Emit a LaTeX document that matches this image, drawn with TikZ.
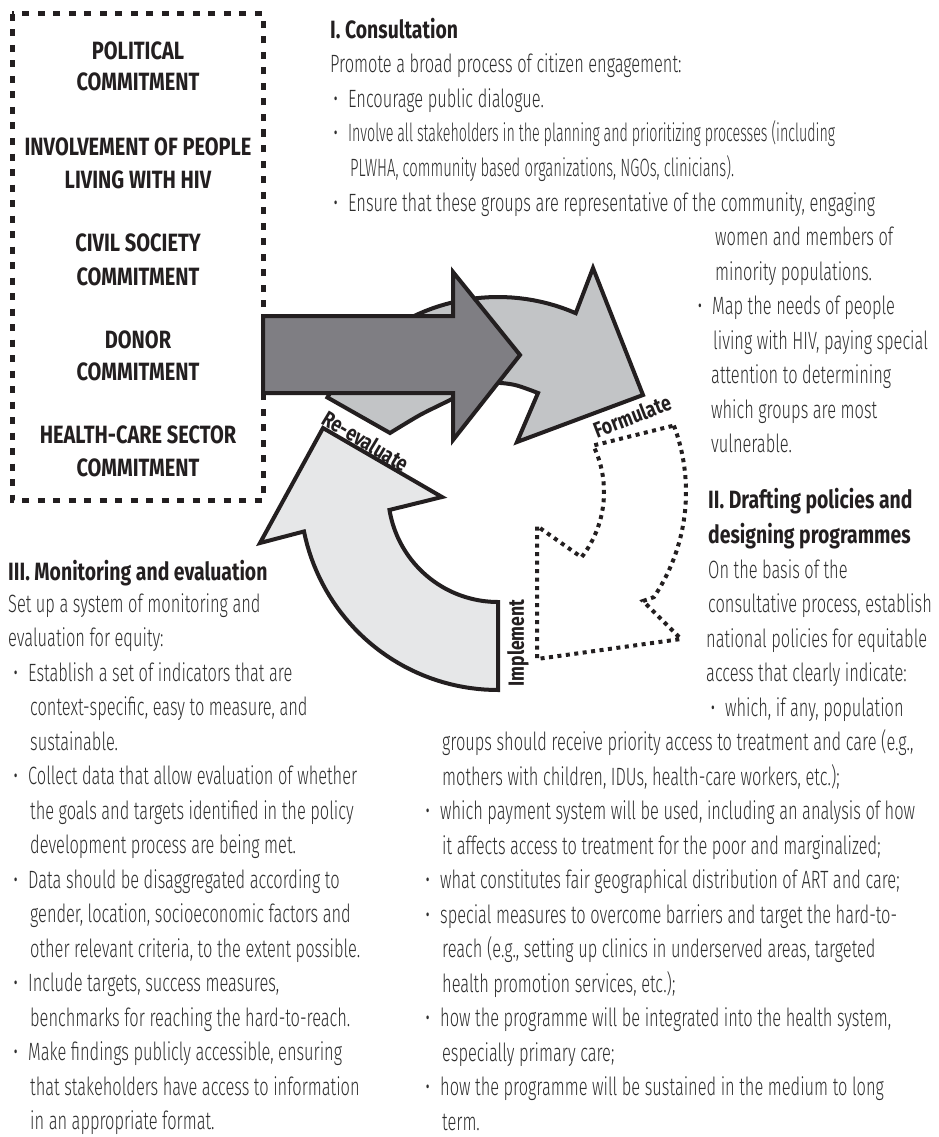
\documentclass[tikz,border=0pt]{standalone}
\usepackage{graphicx}
\usepackage{fontspec}
\IfFontExistsTF{Fira Sans Book}
  {\newfontfamily\bodyfont{Fira Sans Book}[FakeStretch=0.656]}
  {\IfFontExistsTF{Fira Sans Light}
     {\newfontfamily\bodyfont{Fira Sans Light}[FakeStretch=0.656]}
     {\newfontfamily\bodyfont{Fira Sans}[FakeStretch=0.656]}}
\newfontfamily\headfont{Fira Sans}[FakeStretch=0.776]
\newfontfamily\boxfont{Fira Sans}[FakeStretch=0.80]
\definecolor{darkfill}{HTML}{7F7E83}
\definecolor{formfill}{HTML}{C2C4C6}
\definecolor{implfill}{HTML}{E6E7E8}
\definecolor{ink}{HTML}{231F20}
\definecolor{bodyc}{HTML}{2E2E2E}
\newcommand\bul{\llap{\textbullet\hspace{10pt}}}
\tikzset{
  body/.style={font=\bodyfont\fontsize{25}{30}\selectfont, text=bodyc, inner sep=0pt, anchor=base west},
  head/.style={font=\headfont\bfseries\fontsize{25}{30}\selectfont, text=ink, inner sep=0pt, anchor=base west},
  boxtxt/.style={font=\boxfont\bfseries\fontsize{25}{30}\selectfont, text=ink, inner sep=0pt, anchor=base},
  lab/.style={font=\boxfont\bfseries\fontsize{22}{24}\selectfont, text=ink, inner sep=0pt},
  arrowline/.style={draw=ink, line width=4pt, line join=miter},
  dotline/.style={draw=ink, line width=4pt, dash pattern=on 4pt off 4.5pt},
  boxline/.style={draw=ink, line width=5pt, dash pattern=on 7pt off 8.5pt}
}
\begin{document}
\begin{tikzpicture}[x=1pt,y=-1pt]
\useasboundingbox (0,0) rectangle (939,1137);

% commitments box
\draw[boxline] (12,14) rectangle (263,500);
\node[boxtxt] (c1a) at (138,60) {POLITICAL};
\node[boxtxt] (c1b) at (138,91) {COMMITMENT};
\node[boxtxt] (c2a) at (138,155) {INVOLVEMENT OF PEOPLE};
\node[boxtxt] (c2b) at (138,188) {LIVING WITH HIV};
\node[boxtxt] (c3a) at (138,251) {CIVIL SOCIETY};
\node[boxtxt] (c3b) at (138,285) {COMMITMENT};
\node[boxtxt] (c4a) at (138,348) {DONOR};
\node[boxtxt] (c4b) at (138,380) {COMMITMENT};
\node[boxtxt] (c5a) at (138,443) {HEALTH-CARE SECTOR};
\node[boxtxt] (c5b) at (138,476) {COMMITMENT};

% Formulate arrow (top)
\draw[arrowline, fill=formfill]
  plot[domain=151:66.5, samples=40] ({498+195*cos(\x)},{492-195*sin(\x)})
  -- (593,268) -- (643,395) -- (517,442) -- (538,393)
  -- plot[smooth] coordinates {(538,393) (515,385) (493,383) (470,389) (450,400) (420,415) (390,433)}
  -- cycle;

% commitment arrow
\draw[arrowline, fill=darkfill]
  (263,316) -- (453,316) -- (453,272) -- (520,355) -- (453,440) -- (453,393) -- (263,393) -- cycle;

% Re-evaluate arrow (bottom left)
\draw[arrowline, fill=implfill]
  plot[domain=270:191.5, samples=40] ({498+198*cos(\x)},{492-198*sin(\x)})
  -- (260,543) -- (323,428) -- (442,497)
  -- plot[domain=189.4:270, samples=40] ({498+110*cos(\x)},{492-110*sin(\x)})
  -- cycle;

% Implement arrow (dotted)
\draw[dotline]
  plot[domain=20.7:-34, samples=40] ({498+188*cos(\x)},{492-188*sin(\x)})
  -- (643,601) -- (681,639) -- (537,659) -- (537,526)
  -- plot[domain=-38:26, samples=40] ({498+106*cos(\x)},{492-106*sin(\x)})
  -- cycle;

% arrow labels
\node[lab, rotate=-31] (reeval) at (366,441) {Re-evaluate};
\node[lab, rotate=21] (formul) at (632,416) {Formulate};
\node[lab, rotate=90] (implem) at (518,643) {Implement};

% Section I
\node[head] (h1) at (330,39) {I. Consultation};
\node[body] (r1) at (330,73) {Promote a broad process of citizen engagement:};
\node[body] (r2) at (348,107.5) {\bul Encourage public dialogue.};
\node[body] (r3) at (348,142) {\bul\scalebox{0.87}[1]{Involve all stakeholders in the planning and prioritizing processes (including}};
\node[body] (r4) at (350,176.5) {\scalebox{0.905}[1]{PLWHA, community based organizations, NGOs, clinicians).}};
\node[body] (r5) at (348,211) {\bul Ensure that these groups are representative of the community, engaging};
\node[body] (r6) at (715,245.5) {women and members of};
\node[body] (r7) at (715,280) {minority populations.};
\node[body] (r8) at (712,314.5) {\bul Map the needs of people};
\node[body] (r9) at (713,349) {living with HIV, paying special};
\node[body] (r10) at (711,383.5) {attention to determining};
\node[body] (r11) at (711,418) {which groups are most};
\node[body] (r12) at (711,452.5) {vulnerable.};

% Section II
\node[head] (h2a) at (708,508) {II. Drafting policies and};
\node[head] (h2b) at (708,543) {designing programmes};
\node[body] (s1) at (708,578) {On the basis of the};
\node[body] (s2) at (708,612.5) {consultative process, establish};
\node[body] (s3) at (706,647) {national policies for equitable};
\node[body] (s4) at (706,681.5) {access that clearly indicate:};
\node[body] (s5) at (725,716) {\bul which, if any, population};
\node[body] (s6) at (442,750.5) {groups should receive priority access to treatment and care (e.g.,};
\node[body] (s7) at (442,785) {mothers with children, IDUs, health-care workers, etc.);};
\node[body] (s8) at (440,819.5) {\bul which payment system will be used, including an analysis of how};
\node[body] (s9) at (442,854) {it affects access to treatment for the poor and marginalized;};
\node[body] (s10) at (440,888.5) {\bul what constitutes fair geographical distribution of ART and care;};
\node[body] (s11) at (440,923) {\bul special measures to overcome barriers and target the hard-to-};
\node[body] (s12) at (442,957.5) {reach (e.g., setting up clinics in underserved areas, targeted};
\node[body] (s13) at (442,992) {health promotion services, etc.);};
\node[body] (s14) at (440,1026.5) {\bul how the programme will be integrated into the health system,};
\node[body] (s15) at (442,1061) {especially primary care;};
\node[body] (s16) at (440,1095.5) {\bul how the programme will be sustained in the medium to long};
\node[body] (s17) at (442,1130) {term.};

% Section III
\node[head] (h3) at (8,580) {III. Monitoring and evaluation};
\node[body] (t1) at (8,612) {Set up a system of monitoring and};
\node[body] (t2) at (8,646.5) {evaluation for equity:};
\node[body] (t3) at (28,681) {\bul Establish a set of indicators that are};
\node[body] (t4) at (30,715.5) {context-specific, easy to measure, and};
\node[body] (t5) at (30,750) {sustainable.};
\node[body] (t6) at (28,784.5) {\bul Collect data that allow evaluation of whether};
\node[body] (t7) at (30,819) {the goals and targets identified in the policy};
\node[body] (t8) at (30,853.5) {development process are being met.};
\node[body] (t9) at (28,888) {\bul Data should be disaggregated according to};
\node[body] (t10) at (30,922.5) {gender, location, socioeconomic factors and};
\node[body] (t11) at (30,957) {other relevant criteria, to the extent possible.};
\node[body] (t12) at (28,991.5) {\bul Include targets, success measures,};
\node[body] (t13) at (30,1026) {benchmarks for reaching the hard-to-reach.};
\node[body] (t14) at (28,1060.5) {\bul Make findings publicly accessible, ensuring};
\node[body] (t15) at (30,1095) {that stakeholders have access to information};
\node[body] (t16) at (30,1129.5) {in an appropriate format.};
\end{tikzpicture}
\end{document}
